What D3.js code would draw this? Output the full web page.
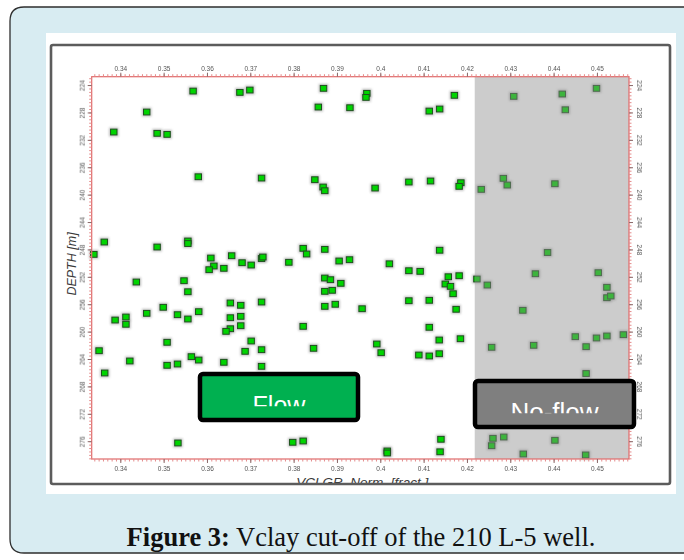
<!DOCTYPE html>
<html><head><meta charset="utf-8">
<script src="https://cdn.jsdelivr.net/npm/d3@7"></script>
<style>body{margin:0;background:#fff;overflow:hidden} svg{display:block}</style>
</head><body>
<script>
// ---- data ----
const vclay = [
 0.3568,0.3676,0.3699,0.3869,0.3969,0.3967,0.3857,0.3930,0.3461,0.3385,0.3485,0.3508,0.4171,0.4113,0.4137,0.4308,0.4420,0.4499,0.4427,
 0.3580,0.3726,0.3849,0.3868,0.3872,0.3988,0.4066,0.4116,0.4186,0.4182,0.4233,0.4284,0.4293,0.4403,
 0.3363,0.3339,0.3485,0.3556,0.3556,0.3609,0.3616,0.3605,0.3657,0.3639,0.3681,0.3702,0.3726,0.3729,0.3789,0.3822,0.3830,0.3872,0.3905,0.3929,
 0.4137,0.4386,0.4021,0.4066,0.4092,0.4157,0.4182,0.4150,0.4162,0.4168,0.4223,0.4247,0.4358,0.4503,0.4523,0.4523,0.4532,
 0.3437,0.3547,0.3556,0.3872,0.3885,0.3909,0.3872,0.3889,0.3499,0.3461,0.3388,0.3413,0.3413,0.3532,0.3556,0.3581,0.3654,0.3678,0.3726,
 0.3654,0.3678,0.3654,0.3644,0.3678,0.3822,0.3872,0.3896,0.3958,0.4066,0.4113,0.4175,0.4329,0.4113,0.4136,0.4185,
 0.3508,0.3351,0.3422,0.3508,0.3532,0.3564,0.3581,0.3639,0.3702,0.3688,0.3726,0.3726,0.3846,0.3364,0.3992,0.4002,0.4089,0.4113,0.4136,
 0.4257,0.4354,0.4450,0.4475,0.4499,0.4523,0.4561,0.4475,
 0.3533,0.3798,0.3822,0.4016,0.4016,0.4140,0.4138,0.4260,0.4257,0.4285,0.4330,0.4403,0.4474
];
const depth = [
 224.88,225.07,224.73,224.48,225.21,225.80,227.21,227.31,227.94,230.86,231.05,231.20,225.50,227.80,227.50,225.65,225.31,224.48,227.61,
 237.39,237.58,237.82,238.89,239.43,239.04,238.16,238.01,238.26,238.79,239.23,237.62,238.60,238.41,
 246.92,248.72,247.65,246.77,247.14,249.26,250.42,250.96,248.92,250.76,249.94,250.28,249.33,249.11,249.88,247.84,248.67,247.99,249.69,249.50,
 248.12,248.45,250.10,251.11,251.20,251.99,251.84,253.05,253.39,254.47,252.32,253.20,251.55,251.40,253.53,255.05,254.80,
 252.76,252.57,254.18,252.18,252.42,252.95,254.12,253.97,256.45,257.33,258.31,257.87,258.93,257.53,258.16,257.09,255.82,256.16,255.68,
 257.97,257.77,259.58,259.96,259.14,259.23,256.31,256.01,256.66,255.49,255.43,256.74,256.89,259.37,261.23,261.04,
 261.56,262.79,264.29,264.92,264.73,263.66,264.15,264.48,261.37,262.88,262.64,265.07,262.44,266.04,261.81,263.08,263.42,263.56,263.23,
 262.29,262.00,260.74,262.20,260.93,260.64,260.45,266.12,
 276.26,276.16,275.97,277.43,277.72,275.72,277.55,275.58,276.66,275.39,277.87,275.87,278.01
];
const xTicks = [0.34,0.35,0.36,0.37,0.38,0.39,0.40,0.41,0.42,0.43,0.44,0.45];
const xTickLabels = ["0.34","0.35","0.36","0.37","0.38","0.39","0.4","0.41","0.42","0.43","0.44","0.45"];
const depthTicks = [224,228,232,236,240,244,248,252,256,260,264,268,272,276];
const xDomain = [0.3334, 0.4574];
const depthDomain = [222.78, 278.6];
const cutoff = 0.4218;
const xTitle = "VCLGR_Norm. [fract.]";
const yTitle = "DEPTH [m]";
const boxes = [
  {label:"Flow", v0:0.35839, v1:0.39486, d0:266.19, d1:272.91, fill:"#00b050"},
  {label:"No-flow", v0:0.42186, v1:0.45855, d0:267.21, d1:273.92, fill:"#7f7f7f"}
];
const caption = {bold:"Figure 3:", rest:" Vclay cut-off of the 210 L-5 well."};

// ---- drawing ----
const W = 684, H = 560;
const svg = d3.select("body").append("svg").attr("width", W).attr("height", H);
const defs = svg.append("defs");
defs.append("filter").attr("id","soft").attr("x","-50%").attr("y","-50%").attr("width","200%").attr("height","200%")
  .append("feGaussianBlur").attr("stdDeviation", 0.9);
defs.append("filter").attr("id","txtblur").append("feGaussianBlur").attr("stdDeviation", 0.25);

// card
svg.append("path")
  .attr("d", "M 700 7 L 24 7 Q 10 7 10 21 L 10 539 Q 10 553 24 553 L 700 553")
  .attr("fill", "#d8ecf2").attr("stroke", "#2e2e2e").attr("stroke-width", 1.3);
// white picture
svg.append("rect").attr("x", 46).attr("y", 33).attr("width", 630).attr("height", 461).attr("fill", "#fff");

const x = d3.scaleLinear().domain(xDomain).range([91.7, 629]);
const y = d3.scaleLinear().domain(depthDomain).range([76.7, 459]);
const [px0, px1] = x.range(), [py0, py1] = y.range();

const g = svg.append("g");

// points (under the translucent cut-off overlay)
const pts = vclay.map((v, i) => ({v, d: depth[i]}));
g.append("g").selectAll("rect").data(pts).join("rect")
  .attr("x", p => x(p.v) - 4.8).attr("y", p => y(p.d) - 4.5)
  .attr("width", 9.6).attr("height", 9).attr("fill", "#9a9a9a").attr("opacity", 0.6)
  .attr("filter", "url(#soft)");
g.append("g").selectAll("rect").data(pts).join("rect")
  .attr("x", p => x(p.v) - 3.2).attr("y", p => y(p.d) - 2.9)
  .attr("width", 6.4).attr("height", 5.8)
  .attr("fill", "#00d400").attr("stroke", "#1f4f1f").attr("stroke-width", 1);

// cut-off overlay
g.append("rect").attr("x", x(cutoff)).attr("y", py0)
  .attr("width", px1 - x(cutoff)).attr("height", py1 - py0)
  .attr("fill", "#8a8a8a").attr("opacity", 0.44);

// red frame
g.append("rect").attr("x", px0).attr("y", py0).attr("width", px1 - px0).attr("height", py1 - py0)
  .attr("fill", "none").attr("stroke", "#e06a6a").attr("stroke-width", 1.2);

const minorX = d3.range(0.334, 0.4575, 0.001);
const minorY = d3.range(223, 278.6, 0.5);
function styleMinor(sel){ sel.select(".domain").remove(); sel.selectAll("line").attr("stroke", "#e48a8a").attr("stroke-width", 1); }
function styleMajor(sel){
  sel.select(".domain").remove();
  sel.selectAll("line").attr("stroke", "#8a6a6a").attr("stroke-width", 1);
  sel.selectAll("text").attr("fill", "#555").attr("font-size", 6.5).attr("font-family", "Liberation Sans, Arial, sans-serif").attr("filter","url(#txtblur)");
}
g.append("g").attr("transform", `translate(0,${py0})`).call(d3.axisTop(x).tickValues(minorX).tickSize(2.5).tickFormat("")).call(styleMinor);
g.append("g").attr("transform", `translate(0,${py1})`).call(d3.axisBottom(x).tickValues(minorX).tickSize(2.5).tickFormat("")).call(styleMinor);
g.append("g").attr("transform", `translate(${px0},0)`).call(d3.axisLeft(y).tickValues(minorY).tickSize(2.5).tickFormat("")).call(styleMinor);
g.append("g").attr("transform", `translate(${px1},0)`).call(d3.axisRight(y).tickValues(minorY).tickSize(2.5).tickFormat("")).call(styleMinor);

const fmtX = (d, i) => xTickLabels[i];
g.append("g").attr("transform", `translate(0,${py0})`).call(d3.axisTop(x).tickValues(xTicks).tickSize(4).tickPadding(2).tickFormat(fmtX)).call(styleMajor);
g.append("g").attr("transform", `translate(0,${py1})`).call(d3.axisBottom(x).tickValues(xTicks).tickSize(4).tickPadding(3).tickFormat(fmtX)).call(styleMajor);

// left / right axes with rotated labels
const leftAx = g.append("g").attr("transform", `translate(${px0},0)`).call(d3.axisLeft(y).tickValues(depthTicks).tickSize(4).tickFormat(d3.format("d"))).call(styleMajor);
leftAx.selectAll("text").attr("x", null).attr("dy", null).attr("text-anchor", "middle").attr("dominant-baseline", "central")
  .attr("transform", "translate(-10,0) rotate(-90)");
const rightAx = g.append("g").attr("transform", `translate(${px1},0)`).call(d3.axisRight(y).tickValues(depthTicks).tickSize(4).tickFormat(d3.format("d"))).call(styleMajor);
rightAx.selectAll("text").attr("x", null).attr("dy", null).attr("text-anchor", "middle").attr("dominant-baseline", "central")
  .attr("transform", "translate(11,0) rotate(90)");

// axis titles
defs.append("clipPath").attr("id", "clipTitle").append("rect").attr("x", 0).attr("y", 0).attr("width", W).attr("height", 483.5);
svg.append("text").attr("x", (px0 + px1) / 2 + 2).attr("y", 486.5).attr("text-anchor", "middle")
  .attr("font-family", "Liberation Sans, Arial, sans-serif").attr("font-style", "italic").attr("font-size", 13.5)
  .attr("fill", "#3a3a3a").attr("clip-path", "url(#clipTitle)").text(xTitle);
svg.append("text").attr("transform", `translate(76,264) rotate(-90)`).attr("text-anchor", "middle")
  .attr("font-family", "Liberation Sans, Arial, sans-serif").attr("font-style", "italic").attr("font-size", 12.5)
  .attr("fill", "#3a3a3a").text(yTitle);

// picture frame
svg.append("rect").attr("x", 51).attr("y", 45).attr("width", 619).attr("height", 439).attr("rx", 2)
  .attr("fill", "none").attr("stroke", "#5c5c5c").attr("stroke-width", 2.6);

// annotation boxes
boxes.forEach((b, i) => {
  const bx = x(b.v0), bx1 = x(b.v1), by = y(b.d0), by1 = y(b.d1);
  svg.append("rect").attr("x", bx).attr("y", by).attr("width", bx1 - bx).attr("height", by1 - by).attr("rx", 3)
    .attr("fill", b.fill).attr("stroke", "#000").attr("stroke-width", 4.5);
  const cid = "clipBox" + i;
  defs.append("clipPath").attr("id", cid).append("rect").attr("x", bx).attr("y", by).attr("width", bx1 - bx)
    .attr("height", (by1 - by) * 0.70);
  svg.append("text").attr("x", (bx + bx1) / 2).attr("y", by + (by1 - by) * 0.86).attr("text-anchor", "middle")
    .attr("font-family", "Liberation Sans, Arial, sans-serif").attr("font-size", i === 0 ? 25 : 26)
    .attr("fill", "#fff").attr("clip-path", `url(#${cid})`).text(b.label);
});

// caption
const cap = svg.append("text").attr("x", 361).attr("y", 546).attr("text-anchor", "middle")
  .attr("font-family", "Liberation Serif, Times New Roman, serif").attr("font-size", 26.5).attr("fill", "#111");
cap.append("tspan").attr("font-weight", "bold").text(caption.bold);
cap.append("tspan").text(caption.rest);
</script>
</body></html>
